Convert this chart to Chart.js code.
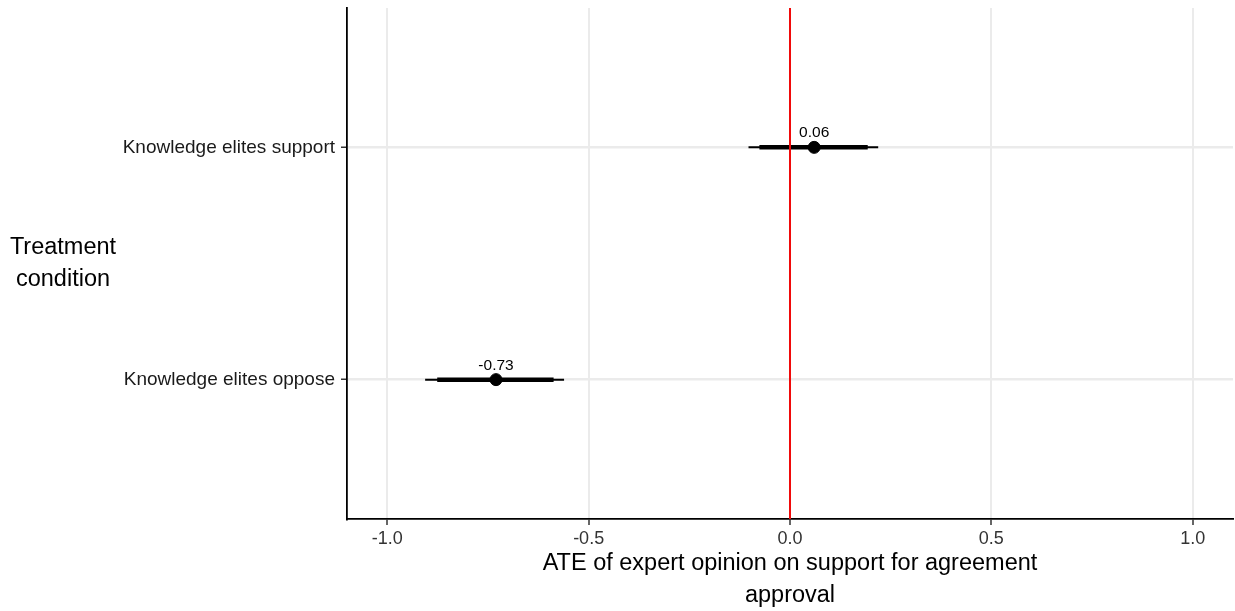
<!DOCTYPE html>
<html>
<head>
<meta charset="utf-8">
<script src="https://cdn.jsdelivr.net/npm/chart.js@4.4.0/dist/chart.umd.min.js"></script>
<style>
  html, body { margin: 0; padding: 0; background: #fff; overflow: hidden; }
  #wrap { width: 1235px; height: 611px; overflow: hidden; }
</style>
</head>
<body>
<div id="wrap"><canvas id="ateChart" width="1240" height="611"></canvas></div>
<script>
/* ===== Data ===== */
const categories = ['Knowledge elites oppose', 'Knowledge elites support'];
const estimates = [-0.73, 0.06];
const innerLow = [-0.876, -0.076];
const innerHigh = [-0.587, 0.193];
const outerLow = [-0.906, -0.103];
const outerHigh = [-0.561, 0.219];
const xTicks = [-1.0, -0.5, 0.0, 0.5, 1.0];
const yTitle = ['Treatment', 'condition'];
const xTitle = ['ATE of expert opinion on support for agreement', 'approval'];

const FONT = "'Liberation Sans', Arial, sans-serif";

/* ===== Datasets ===== */
const datasets = [];

// zero reference line
datasets.push({
    type: 'line',
    data: [{x: 0, y: 0.4}, {x: 0, y: 2.6}],
    borderColor: '#f00a0a',
    borderWidth: 2,
    pointRadius: 0
});

categories.forEach((cat, i) => {
    const yPos = i + 1;
    datasets.push({
        type: 'line',
        data: [{x: outerLow[i], y: yPos}, {x: outerHigh[i], y: yPos}],
        borderColor: '#000',
        borderWidth: 2,
        pointRadius: 0
    });
    datasets.push({
        type: 'line',
        data: [{x: innerLow[i], y: yPos}, {x: innerHigh[i], y: yPos}],
        borderColor: '#000',
        borderWidth: 4.5,
        pointRadius: 0
    });
});

datasets.push({
    type: 'scatter',
    data: estimates.map((v, i) => ({x: v, y: i + 1})),
    backgroundColor: '#000',
    borderColor: '#000',
    pointRadius: 6,
    pointHoverRadius: 6
});

/* ===== Plugins ===== */
const labelPlugin = {
    id: 'labels',
    afterDatasetsDraw(chart){
        const ctx = chart.ctx;
        const xs = chart.scales.x, ys = chart.scales.y;
        ctx.save();
        ctx.fillStyle = '#000';
        ctx.font = '15.5px ' + FONT;
        ctx.textAlign = 'center';
        ctx.textBaseline = 'alphabetic';
        estimates.forEach((v, i) => {
            ctx.fillText(v.toFixed(2), xs.getPixelForValue(v), ys.getPixelForValue(i + 1) - 10);
        });
        ctx.restore();
    }
};

const yTitlePlugin = {
    id: 'yTitle',
    afterDraw(chart){
        const ctx = chart.ctx;
        ctx.save();
        ctx.fillStyle = '#000';
        ctx.font = '23.5px ' + FONT;
        ctx.textAlign = 'center';
        ctx.textBaseline = 'middle';
        ctx.fillText(yTitle[0], 63, 248);
        ctx.fillText(yTitle[1], 63, 280);
        ctx.restore();
    }
};

/* ===== Chart ===== */
new Chart(document.getElementById('ateChart'), {
    type: 'scatter',
    data: { datasets: datasets },
    options: {
        responsive: false,
        animation: false,
        events: [],
        layout: { padding: { top: 8, right: 0, left: 0, bottom: 0 } },
        plugins: { legend: { display: false }, tooltip: { enabled: false } },
        scales: {
            x: {
                type: 'linear',
                min: -1.1,
                max: 1.1,
                afterBuildTicks: scale => { scale.ticks = xTicks.map(v => ({value: v})); },
                afterFit: scale => {
                    scale.height = 92;
                    scale.paddingLeft = 0;
                    scale.paddingRight = 0;
                },
                ticks: {
                    color: '#333',
                    font: { size: 18, family: FONT },
                    padding: 3,
                    callback: v => v.toFixed(1)
                },
                grid: {
                    color: '#ebebeb',
                    lineWidth: 2,
                    tickColor: '#333',
                    tickLength: 6,
                    tickWidth: 1.5
                },
                border: { display: true, color: '#000', width: 1.8 },
                title: {
                    display: true,
                    text: xTitle,
                    color: '#000',
                    font: { size: 23.5, family: FONT, lineHeight: 1.36 },
                    padding: { top: 3, bottom: 0 }
                }
            },
            y: {
                type: 'linear',
                min: 0.4,
                max: 2.6,
                afterBuildTicks: scale => { scale.ticks = categories.map((c, i) => ({value: i + 1})); },
                afterFit: scale => {
                    scale.width = 347;
                    scale.paddingTop = 0;
                    scale.paddingBottom = 0;
                },
                ticks: {
                    color: '#1a1a1a',
                    font: { size: 19, family: FONT },
                    padding: 6,
                    callback: v => categories[v - 1]
                },
                grid: {
                    color: '#ebebeb',
                    lineWidth: 2.5,
                    tickColor: '#333',
                    tickLength: 6,
                    tickWidth: 1.5
                },
                border: { display: true, color: '#000', width: 1.8 }
            }
        }
    },
    plugins: [labelPlugin, yTitlePlugin]
});
</script>
</body>
</html>
